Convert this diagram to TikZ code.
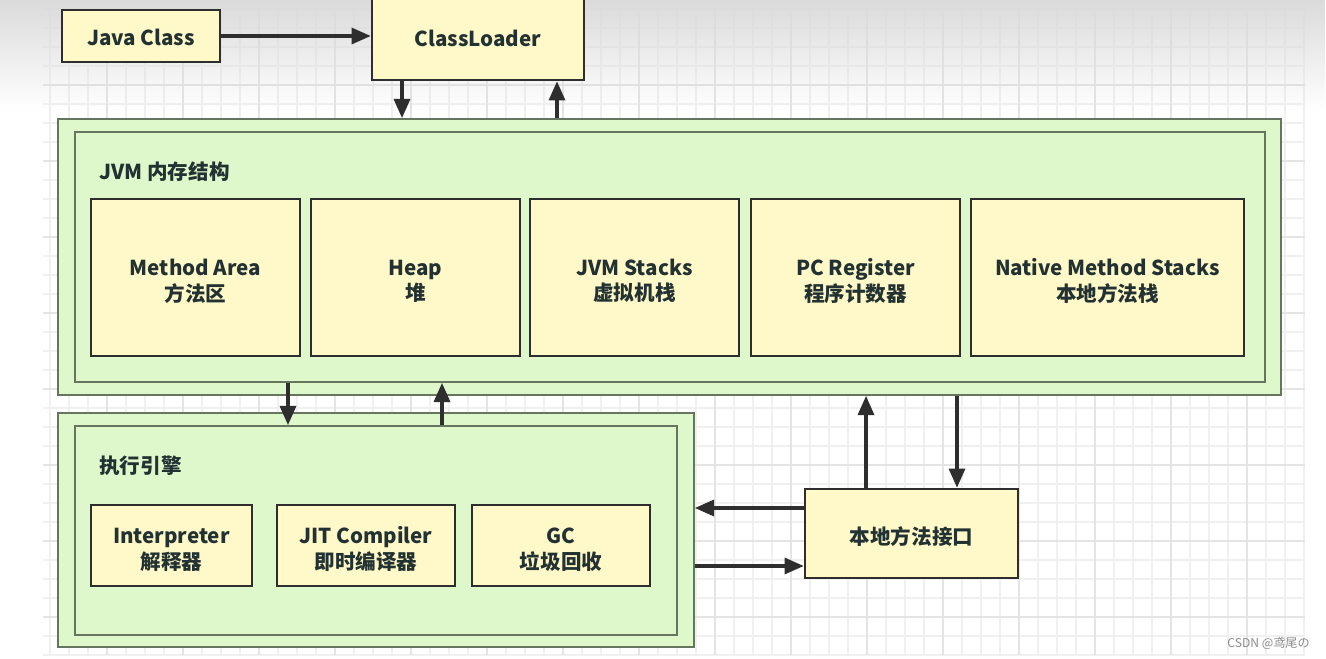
\documentclass[tikz,border=0pt]{standalone}
\usepackage{fontspec}
\setmainfont{Noto Sans CJK SC}
\usetikzlibrary{arrows.meta,fadings}
\definecolor{boxyellow}{HTML}{FFF8C8}
\definecolor{boxgreen}{HTML}{DEF8CC}
\definecolor{edgedark}{HTML}{2E2E2E}
\definecolor{edgegreen}{HTML}{66765E}
\definecolor{labelink}{HTML}{223232}
\definecolor{gridminor}{HTML}{F0F0F0}
\definecolor{gridmajor}{HTML}{E4E4E4}
\def\twolines#1#2{\raisebox{-3.4pt}[\height][\depth]{\begin{tabular}{@{}c@{}}#1\\#2\end{tabular}}}
\def\lowered#1#2{\raisebox{-#1}[\height][\depth]{#2}}

\begin{document}
\begin{tikzpicture}[x=0.02cm, y=-0.02cm,
	font=\fontsize{11.7pt}{14.2pt}\selectfont\bfseries,
	ybox/.style={draw=edgedark, line width=1.3pt, fill=boxyellow, text=labelink, inner sep=0pt, align=center},
	gbox/.style={draw=edgegreen, line width=0.9pt, fill=boxgreen, inner sep=0pt},
	memcell/.style={ybox, minimum width=4.18cm, minimum height=3.14cm},
	enginecell/.style={ybox, minimum width=3.56cm, minimum height=1.62cm},
	flow/.style={draw=edgedark, line width=2.2pt, -{Triangle[length=11pt,width=9pt]}},
	minorgrid/.style={gridminor, line width=0.6pt},
	majorgrid/.style={gridmajor, line width=0.8pt}]
	%%%%% START %%%%%
	
	\useasboundingbox (0,0) rectangle (1326,659);
	\fill[white] (0,0) rectangle (1326,659);
	
	\foreach \x in {50,69,...,1305} \draw[minorgrid] (\x,0) -- (\x,655);
	\foreach \y in {9,28,...,655} \draw[minorgrid] (43,\y) -- (1305,\y);
	\foreach \x in {107,183,...,1305} \draw[majorgrid] (\x,0) -- (\x,655);
	\foreach \y in {9,85,...,655} \draw[majorgrid] (43,\y) -- (1305,\y);
	
	\fill[black!14, path fading=south] (0,0) rectangle (1326,110);
	
	\node[ybox, minimum width=3.16cm, minimum height=1.04cm] (javaclass) at (141,36) {\lowered{1pt}{Java Class}};
	\node[ybox, minimum width=4.24cm, minimum height=1.68cm] (loader) at (478,38) {ClassLoader};
	
	\node[gbox, minimum width=24.46cm, minimum height=5.52cm] (jvmout) at (669.5,257) {};
	\node[gbox, minimum width=23.8cm, minimum height=5cm] (jvmin) at (670,257) {};
	\node[anchor=west, inner sep=0pt, text=labelink] (jvmtitle) at (99,172) {JVM 内存结构};
	
	\node[memcell] (method) at (195.5,277.5) {\twolines{Method Area}{方法区}};
	\node[memcell] (heap) at (415.5,277.5) {\twolines{Heap}{堆}};
	\node[memcell] (stacks) at (634.5,277.5) {\twolines{JVM Stacks}{虚拟机栈}};
	\node[memcell] (pcreg) at (855.5,277.5) {\twolines{PC Register}{程序计数器}};
	\node[memcell, minimum width=5.46cm] (nativestk) at (1107.5,277.5) {\twolines{Native Method Stacks}{本地方法栈}};
	
	\node[gbox, minimum width=12.72cm, minimum height=4.68cm] (execout) at (376,530) {};
	\node[gbox, minimum width=12.04cm, minimum height=4.18cm] (execin) at (376,530.5) {};
	\node[anchor=west, inner sep=0pt, text=labelink] (exectitle) at (99,466) {执行引擎};
	
	\node[enginecell, minimum width=3.22cm] (interp) at (171.5,545.5) {\twolines{Interpreter}{解释器}};
	\node[enginecell] (jit) at (366,545.5) {\twolines{JIT Compiler}{即时编译器}};
	\node[enginecell] (gc) at (561,545.5) {\twolines{GC}{垃圾回收}};
	
	\node[ybox, minimum width=4.26cm, minimum height=1.78cm] (native) at (911.5,533.5) {\lowered{1.7pt}{本地方法接口}};
	
	\node[anchor=east, inner sep=0pt, text=black!45, font=\fontsize{6.9pt}{8pt}\selectfont] (mark) at (1310,643) {CSDN @鸢尾の};
	
	\coordinate (loaddn) at (402,0);
	\coordinate (loadup) at (557,0);
	\coordinate (execdn) at (288,0);
	\coordinate (execup) at (442,0);
	\coordinate (nativeup) at (866,0);
	\coordinate (nativedn) at (957,0);
	\coordinate (toexec) at (0,508);
	\coordinate (tonative) at (0,566);
	
	\draw[flow] (javaclass.east) -- (javaclass.east -| loader.west);
	\draw[flow] (loader.south -| loaddn) -- (jvmout.north -| loaddn);
	\draw[flow] (jvmout.north -| loadup) -- (loader.south -| loadup);
	\draw[flow] (jvmin.south -| execdn) -- (execin.north -| execdn);
	\draw[flow] (execin.north -| execup) -- (jvmin.south -| execup);
	\draw[flow] (native.north -| nativeup) -- (jvmout.south -| nativeup);
	\draw[flow] (jvmout.south -| nativedn) -- (native.north -| nativedn);
	\draw[flow] (native.west |- toexec) -- (execout.east |- toexec);
	\draw[flow] (execout.east |- tonative) -- (native.west |- tonative);
	
	%%%%% END %%%%%
\end{tikzpicture}
\end{document}
